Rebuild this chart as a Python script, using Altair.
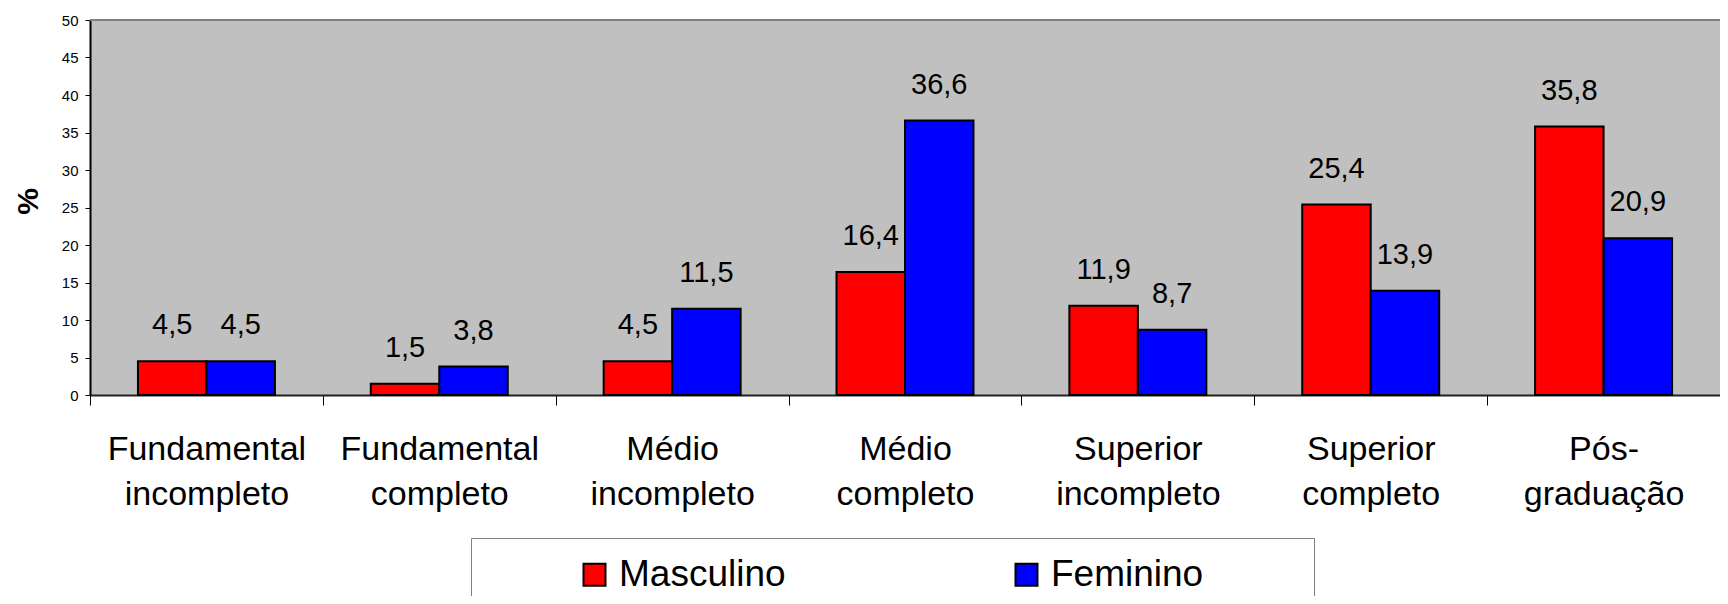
import altair as alt
import pandas as pd

categorias = [
    "Fundamental incompleto",
    "Fundamental completo",
    "Médio incompleto",
    "Médio completo",
    "Superior incompleto",
    "Superior completo",
    "Pós-graduação",
]
masculino = [4.5, 1.5, 4.5, 16.4, 11.9, 25.4, 35.8]
feminino = [4.5, 3.8, 11.5, 36.6, 8.7, 13.9, 20.9]
series = ["Masculino", "Feminino"]
cores = ["#FF0000", "#0000FF"]
y_ticks = [0, 5, 10, 15, 20, 25, 30, 35, 40, 45, 50]
y_max = [50]

rows = []
for c, m, f in zip(categorias, masculino, feminino):
    rows.append({"cat": c, "sexo": "Masculino", "valor": m, "rotulo": f"{m:.1f}".replace(".", ",")})
    rows.append({"cat": c, "sexo": "Feminino", "valor": f, "rotulo": f"{f:.1f}".replace(".", ",")})
df = pd.DataFrame(rows)

FONT = "Liberation Sans"

x_enc = alt.X(
    "cat:N",
    sort=categorias,
    scale=alt.Scale(paddingInner=0, paddingOuter=0),
    axis=alt.Axis(
        title=None,
        labelAngle=0,
        labelExpr="split(replace(datum.label, '-', '- '), ' ')",
        labelFontSize=34,
        labelFont=FONT,
        labelColor="black",
        labelLineHeight=45,
        labelPadding=27,
        labelLimit=400,
        tickBand="extent",
        tickSize=10,
        tickColor="black",
        tickWidth=1,
        domainColor="#222222",
        domainWidth=2,
    ),
)
xoff_enc = alt.XOffset(
    "sexo:N", sort=series, scale=alt.Scale(paddingInner=0, paddingOuter=0.7)
)
y_enc = alt.Y(
    "valor:Q",
    scale=alt.Scale(domain=[0, 50], nice=False),
    axis=alt.Axis(
        title="%",
        values=y_ticks,
        titleFontSize=30,
        titleFont=FONT,
        titleFontWeight="bold",
        titleColor="black",
        titleAngle=270,
        titleAlign="center",
        titleBaseline="middle",
        titleX=-62,
        titleY=181,
        labelFontSize=15,
        labelFont=FONT,
        labelColor="black",
        labelPadding=7,
        labelOverlap=False,
        tickSize=5,
        tickColor="black",
        domainColor="black",
        domainWidth=2,
        grid=False,
    ),
)

# trailing non-breaking spaces (closed by a zero-width space so they are not trimmed)
# only widen the legend box on the right, as in the original
pad_right = "\u00a0" * 9 + "\u200b"

bars = alt.Chart(df).mark_bar(stroke="black", strokeWidth=2).encode(
    x=x_enc,
    xOffset=xoff_enc,
    y=y_enc,
    color=alt.Color(
        "sexo:N",
        sort=series,
        scale=alt.Scale(domain=series, range=cores),
        legend=alt.Legend(
            title="\u00a0",
            titleOrient="left",
            titleFontSize=1,
            titlePadding=87,
            orient="none",
            legendX=381,
            legendY=518,
            direction="horizontal",
            columnPadding=222,
            symbolType="square",
            symbolSize=484,
            symbolStrokeColor="black",
            symbolStrokeWidth=2,
            labelFontSize=37,
            labelFont=FONT,
            labelColor="black",
            labelOffset=6,
            labelLimit=600,
            labelExpr=f"datum.label == 'Feminino' ? datum.label + '{pad_right}' : datum.label",
            padding=18,
            strokeColor="#808080",
            fillColor="white",
        ),
    ),
)

labels = alt.Chart(df).mark_text(
    dy=-27, baseline="alphabetic", fontSize=29, font=FONT, color="black"
).encode(x=x_enc, xOffset=xoff_enc, y=y_enc, text="rotulo:N")

topo = alt.Chart(pd.DataFrame({"valor": y_max})).mark_rule(
    color="#808080", strokeWidth=2
).encode(y=y_enc)

chart = (
    alt.layer(bars, labels, topo)
    .properties(
        width=1630,
        height=375,
        autosize=alt.AutoSizeParams(type="none"),
        padding={"left": 82, "top": 12, "right": 0, "bottom": 201},
        background="white",
    )
    .configure_view(fill="#C0C0C0", stroke=None)
)

chart.save("out.html", embed_options={"renderer": "svg", "actions": False})
